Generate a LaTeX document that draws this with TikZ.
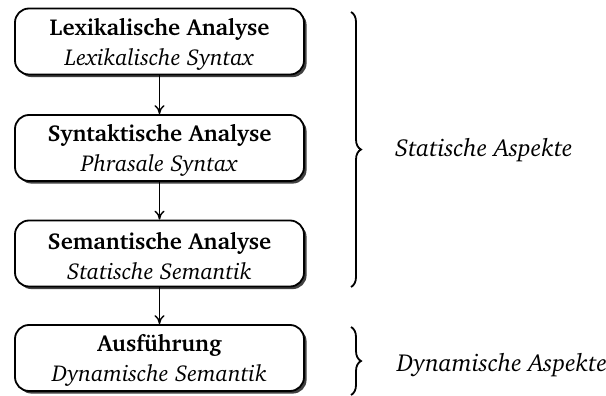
\documentclass[tikz,border=0pt]{standalone}
\usepackage[T1]{fontenc}
\usepackage{charter}
\usetikzlibrary{shadows,decorations.pathreplacing,arrows.meta}
\newcommand{\toplinestrut}{\rule{0pt}{11pt}}
\begin{document}
\begin{tikzpicture}[x=0.5pt,y=-0.5pt]
\useasboundingbox (0,0) rectangle (606,396);
\tikzset{
  stage/.style={draw, line width=0.9pt, rounded corners=7pt,
    minimum width=144.5pt, minimum height=33pt, fill=white, align=center,
    font=\fontsize{11.5}{15}\selectfont, inner sep=0pt,
    drop shadow={shadow xshift=1.3pt, shadow yshift=-1.3pt, fill=black!75, opacity=1}},
  flow/.style={-{To[length=4.5pt,width=5pt]}, line width=0.7pt},
  bracket/.style={decorate, decoration={brace, amplitude=5pt}, line width=0.9pt},
  aspect/.style={anchor=west, font=\fontsize{12.3}{14}\selectfont\itshape}
}
\node[stage] (lex) at (159.5,41.5) {\toplinestrut\textbf{Lexikalische Analyse}\\\textit{Lexikalische Syntax}};
\node[stage] (syn) at (159.5,148) {\toplinestrut\textbf{Syntaktische Analyse}\\\textit{Phrasale Syntax}};
\node[stage] (sem) at (159.5,253.5) {\toplinestrut\textbf{Semantische Analyse}\\\textit{Statische Semantik}};
\node[stage] (aus) at (159.5,358) {\toplinestrut\textbf{Ausführung}\\\textit{Dynamische Semantik}};
\draw[flow] (lex) -- (syn);
\draw[flow] (syn) -- (sem);
\draw[flow] (sem) -- (aus);
\coordinate (s1) at (351,12);
\coordinate (s2) at (351,287);
\coordinate (d1) at (351,327);
\coordinate (d2) at (351,395);
\draw[bracket] (s1) -- (s2);
\draw[bracket] (d1) -- (d2);
\node[aspect] (stat) at (388,150) {Statische Aspekte};
\node[aspect] (dyn) at (390,365) {Dynamische Aspekte};
\end{tikzpicture}
\end{document}
